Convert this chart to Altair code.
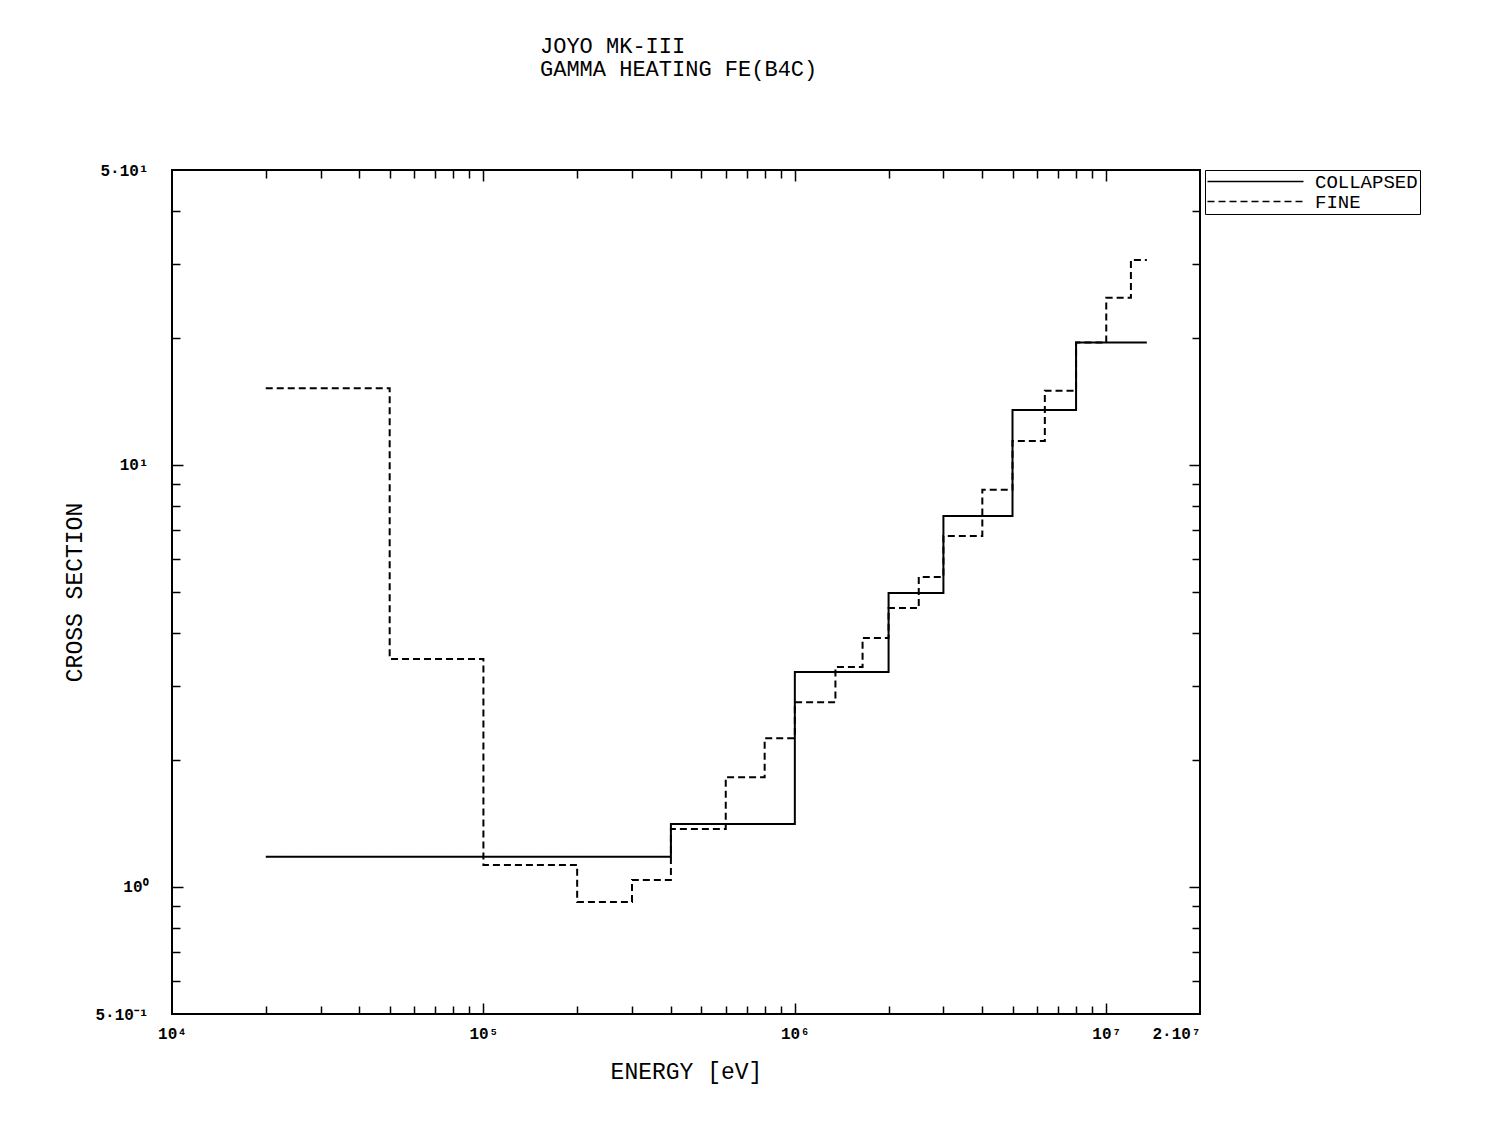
import altair as alt
import pandas as pd

# ---- data ----
series_names = ["COLLAPSED", "FINE"]

collapsed_edges = [2e4, 4e5, 1e6, 2e6, 3e6, 5e6, 8e6, 1.35e7]
collapsed_values = [1.18, 1.41, 3.23, 4.97, 7.57, 13.5, 19.5]

fine_edges = [2e4, 5e4, 1e5, 2e5, 3e5, 4e5, 6e5, 8e5, 1e6, 1.35e6, 1.65e6,
              2e6, 2.5e6, 3e6, 4e6, 5e6, 6.35e6, 8e6, 1e7, 1.2e7, 1.35e7]
fine_values = [15.2, 3.47, 1.127, 0.921, 1.039, 1.372, 1.82, 2.25, 2.74, 3.32,
               3.89, 4.58, 5.43, 6.79, 8.73, 11.4, 15.0, 19.5, 24.9, 30.6]

x_label_values = [1e4, 1e5, 1e6, 1e7, 2e7]
x_label_texts = ["10⁴", "10⁵", "10⁶", "10⁷", "2·10⁷"]
y_label_values = [0.5, 1, 10, 50]
y_label_texts = ["5·10⁻¹", "10⁰", "10¹", "5·10¹"]

x_major_ticks = [1e5, 1e6, 1e7]
x_minor_ticks = [2e4, 3e4, 4e4, 5e4, 6e4, 7e4, 8e4, 9e4,
                 2e5, 3e5, 4e5, 5e5, 6e5, 7e5, 8e5, 9e5,
                 2e6, 3e6, 4e6, 5e6, 6e6, 7e6, 8e6, 9e6]
y_major_ticks = [1, 10]
y_minor_ticks = [0.6, 0.7, 0.8, 0.9, 2, 3, 4, 5, 6, 7, 8, 9, 20, 30, 40]

title_lines = ["JOYO MK-III", "GAMMA HEATING FE(B4C)"]
x_title = "ENERGY [eV]"
y_title = "CROSS SECTION"

MONO = "Liberation Mono"

# ---- build table ----
rows = []
for name, edges, vals in [(series_names[0], collapsed_edges, collapsed_values),
                          (series_names[1], fine_edges, fine_values)]:
    for i, e in enumerate(edges):
        v = vals[i] if i < len(vals) else vals[-1]
        rows.append({"energy": e, "xs": v, "series": name, "order": i})
df = pd.DataFrame(rows)


def label_expr(values, texts):
    expr = "''"
    for v, t in reversed(list(zip(values, texts))):
        expr = f"(abs(datum.value - {v!r}) < {abs(v) * 1e-6!r} ? '{t}' : {expr})"
    return expr


W, H = 1028, 844
xscale = alt.Scale(type="log", domain=[1e4, 2e7], nice=False)
yscale = alt.Scale(type="log", domain=[0.5, 50], nice=False)

x_label_axis = alt.Axis(
    orient="bottom", values=x_label_values, labelExpr=label_expr(x_label_values, x_label_texts),
    ticks=False, tickSize=0, domain=False, grid=False, labelPadding=11,
    labelAlign={"expr": "datum.value > 15000000 ? 'right' : 'center'"},
    labelFontSize=16, labelFont=MONO, labelColor="black", labelFontWeight="bold",
    title=x_title, titleFont=MONO, titleFontSize=23, titleFontWeight="normal",
    titleColor="black", titleX=W / 2, titleY=57, titleBaseline="middle", titleAlign="center",
)
y_label_axis = alt.Axis(
    orient="left", values=y_label_values, labelExpr=label_expr(y_label_values, y_label_texts),
    ticks=False, tickSize=0, domain=False, grid=False, labelPadding=24,
    labelFontSize=16, labelFont=MONO, labelColor="black", labelFontWeight="bold",
    title=y_title, titleFont=MONO, titleFontSize=23, titleFontWeight="normal",
    titleColor="black", titleX=-98, titleY=H / 2, titleAngle=-90,
    titleBaseline="middle", titleAlign="center",
)


def tick_axis(orient, values, length):
    return alt.Axis(orient=orient, values=values, labels=False, ticks=True,
                    tickSize=length, offset=-length, domain=False, grid=False,
                    title=None, tickColor="black", tickWidth=1.5)


lines = alt.Chart(df).mark_line(interpolate="step-after", color="black", strokeWidth=2).encode(
    x=alt.X("energy:Q", scale=xscale, axis=x_label_axis),
    y=alt.Y("xs:Q", scale=yscale, axis=y_label_axis),
    strokeDash=alt.StrokeDash(
        "series:N",
        scale=alt.Scale(domain=series_names, range=[[1, 0], [7, 4]]),
        legend=alt.Legend(
            title=None, orient="none", legendX=1033, legendY=0,
            symbolType="M-8,0H8", symbolSize=144, symbolStrokeWidth=1.5,
            symbolStrokeColor="black", symbolOffset=39, labelOffset=50,
            labelFont=MONO, labelFontSize=19, labelColor="black",
            strokeColor="black", fillColor="white", padding=2, rowPadding=0,
        ),
    ),
    detail="series:N",
    order="order:Q",
)


def axis_layer(xaxis, yaxis):
    return alt.Chart(df).mark_point(opacity=0).encode(
        x=alt.X("energy:Q", scale=xscale, axis=xaxis),
        y=alt.Y("xs:Q", scale=yscale, axis=yaxis),
    )


layers = [
    lines,
    axis_layer(tick_axis("bottom", x_major_ticks, 11), tick_axis("left", y_major_ticks, 11)),
    axis_layer(tick_axis("bottom", x_minor_ticks, 8), tick_axis("left", y_minor_ticks, 8)),
    axis_layer(tick_axis("top", x_major_ticks, 11), tick_axis("right", y_major_ticks, 11)),
    axis_layer(tick_axis("top", x_minor_ticks, 8), tick_axis("right", y_minor_ticks, 8)),
]

chart = alt.layer(*layers).resolve_axis(x="independent", y="independent").properties(
    width=W, height=H,
    background="white",
    autosize=alt.AutoSizeParams(type="none"),
    padding={"left": 172, "top": 170, "right": 293, "bottom": 113},
    title=alt.TitleParams(text=title_lines, anchor="start", frame="group", dx=368, font=MONO,
                          fontSize=22, lineHeight=23, fontWeight="normal", color="black",
                          offset=81),
).configure_view(stroke="black", strokeWidth=2)

chart.save("out.html", embed_options={"renderer": "svg", "actions": False})
